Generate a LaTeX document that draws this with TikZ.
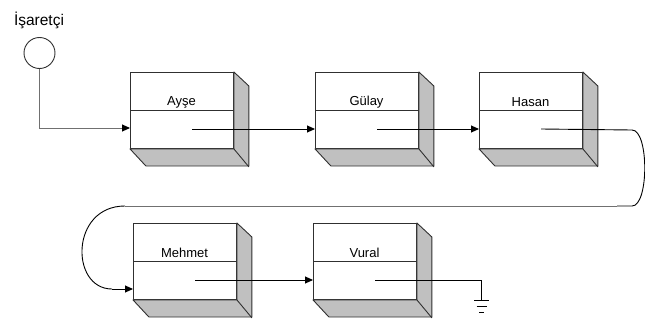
\documentclass[tikz,border=0pt]{standalone}
\usepackage{fontspec}
\setmainfont{Liberation Sans}
\usetikzlibrary{arrows.meta}
\definecolor{sidegray}{HTML}{C0C0C0}
\definecolor{edgegray}{HTML}{303030}
\definecolor{linkgray}{HTML}{707070}
\tikzset{
  front/.style={draw=edgegray, fill=white, line width=0.9pt, minimum width=103pt, minimum height=76pt, inner sep=0pt, anchor=north west},
  sideface/.style={draw=edgegray, fill=sidegray, line width=0.9pt, line join=round},
  divider/.style={draw=edgegray, line width=0.9pt},
  lbl/.style={font=\fontsize{13}{15}\selectfont, inner sep=0pt},
  link/.style={draw=black, line width=0.9pt, -{Triangle[length=8pt,width=7pt]}},
  glink/.style={draw=linkgray, line width=1pt},
}
\newcommand\listbox[4]{%
  \node[front] (#1) at (#2,#3) {};
  \path[sideface] (#1.north east) -- ++(15,14) -- ++(0,80) -- ++(-103,0) -- (#1.south west) -- (#1.south east) -- cycle;
  \draw[divider] (#1.south east) -- ++(15,18);
  \draw[divider] ([yshift=-38pt]#1.north west) coordinate (#1dl) -- ([yshift=-38pt]#1.north east);
  \node[lbl] (#1lbl) at ([xshift=51.5pt,yshift=-30pt]#1.north west) {#4};
  \coordinate (#1p) at ([xshift=62pt,yshift=-57pt]#1.north west);
}
\begin{document}
\begin{tikzpicture}[x=1pt,y=-1pt]
\useasboundingbox (0,0) rectangle (645,321);
\listbox{ayse}{130}{72}{Ayşe}
\listbox{gulay}{315}{72}{Gülay}
\listbox{hasan}{479}{72}{Hasan}
\listbox{mehmet}{133}{223}{Mehmet}
\listbox{vural}{313}{223}{Vural}
% pointer
\node[font=\fontsize{15.5}{18}\selectfont, inner sep=0pt] (title) at (39,20) {İşaretçi};
\node[draw=edgegray, line width=0.9pt, circle, minimum size=31pt, inner sep=0pt] (ptr) at (39.5,53) {};
\coordinate (pe) at (123,128);
\draw[glink] (ptr.south) |- (pe);
\draw[link] (pe) -- (ayse.west |- pe);
% links row 1
\draw[link] (aysep) -- (gulay.west |- aysep);
\draw[link] (gulayp) -- (hasan.west |- gulayp);
% return path
\coordinate (r1) at (632,130);
\coordinate (r2) at (632,206);
\coordinate (r3) at (617,206);
\coordinate (l1) at (125,206);
\coordinate (l2) at (112,289);
\draw[line width=0.9pt] (hasanp) -- (r1) .. controls (649,130) and (649,206) .. (r2) -- (r3);
\draw[glink] (r3) -- (l1);
\draw[line width=0.9pt] (l1) .. controls (70,206) and (70,289) .. (l2);
\draw[link] (l2) -- (mehmet.west |- l2);
% row 2
\draw[link] (mehmetp) -- (vural.west |- mehmetp);
\coordinate (g0) at (481.5,300);
\draw[line width=0.9pt] (vuralp) -| (g0);
\draw[line width=0.9pt] (474,300.5) -- (489,300.5);
\draw[line width=0.9pt] (476.5,306.5) -- (486.5,306.5);
\draw[line width=0.9pt] (479,312.5) -- (484,312.5);
\end{tikzpicture}
\end{document}
